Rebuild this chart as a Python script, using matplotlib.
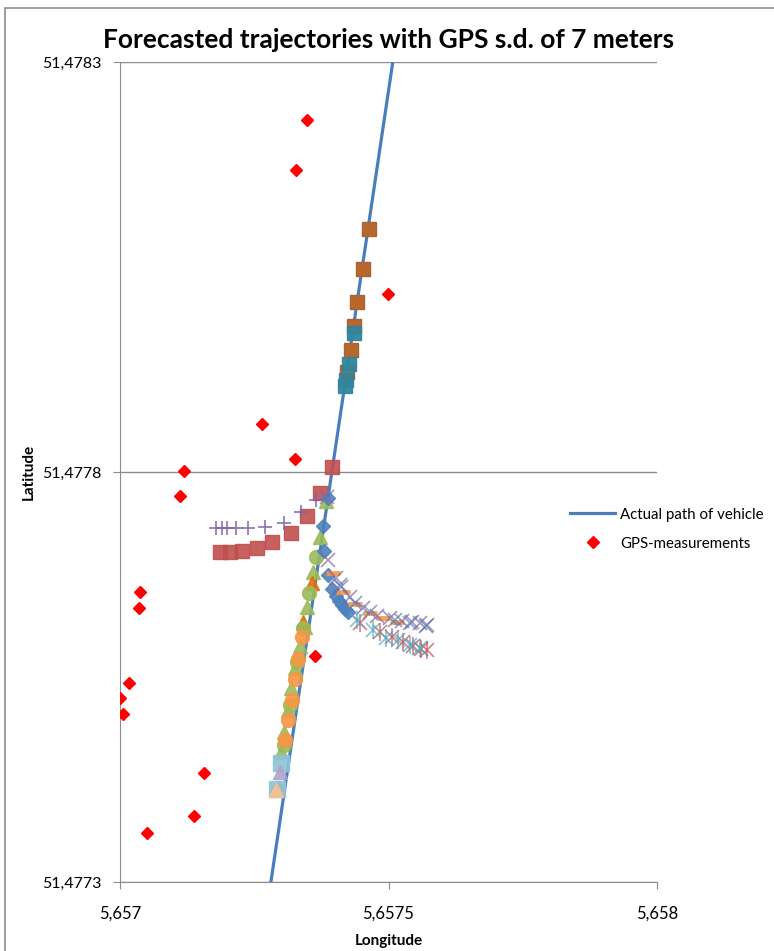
#!/usr/bin/env python3

import matplotlib
matplotlib.use("Agg")
import matplotlib.pyplot as plt
from matplotlib.patches import Rectangle

plt.rcParams["font.family"] = ["Lato", "DejaVu Sans"]

# actual path of the vehicle (straight road)
path_lon = [5.657281, 5.657508]
path_lat = [51.4773, 51.4783]

# noisy GPS fixes
gps_lon = [5.6573482, 5.6573277, 5.6574991, 5.6572644, 5.6573259, 5.6571192, 5.6571117, 5.6570372,
           5.6570354, 5.6573631, 5.6570168, 5.6570000, 5.6570056, 5.6571564, 5.6571378, 5.6570503]
gps_lat = [51.4782293, 51.4781683, 51.4780171, 51.4778585, 51.4778159, 51.4778012, 51.4777707, 51.4776537,
           51.4776341, 51.4775756, 51.4775427, 51.4775244, 51.4775049, 51.4774329, 51.4773805, 51.4773598]

# forecasted trajectories, one list pair per run
brown_lon = [5.6574637, 5.6574525, 5.6574413, 5.6574358, 5.6574302, 5.6574227]
brown_lat = [51.4780963, 51.4780476, 51.4780073, 51.4779781, 51.4779488, 51.4779220]

teal_lon = [5.6574358, 5.6574264, 5.6574209, 5.6574190]
teal_lat = [51.4779695, 51.4779317, 51.4779122, 51.4779049]

redsq_lon = [5.6573948, 5.6573724, 5.6573482, 5.6573184, 5.6572831, 5.6572551, 5.6572272, 5.6572048, 5.6571862]
redsq_lat = [51.4778061, 51.4777744, 51.4777463, 51.4777256, 51.4777146, 51.4777073, 51.4777037, 51.4777024, 51.4777024]

plus_lon = [5.6571788, 5.6571899, 5.6571993, 5.6572160, 5.6572384, 5.6572700, 5.6573054, 5.6573371, 5.6573650]
plus_lat = [51.4777317, 51.4777317, 51.4777317, 51.4777317, 51.4777317, 51.4777329, 51.4777378, 51.4777512, 51.4777659]

diam_lon = [5.6573873, 5.6573780, 5.6573799, 5.6573873, 5.6573948, 5.6574022, 5.6574078, 5.6574134, 5.6574190, 5.6574246]
diam_lat = [51.4777683, 51.4777342, 51.4777037, 51.4776744, 51.4776573, 51.4776488, 51.4776427, 51.4776378, 51.4776329, 51.4776293]

gtri_lon = [5.6573836, 5.6573724, 5.6573594, 5.6573482, 5.6573445, 5.6573352, 5.6573259, 5.6573184, 5.6573128, 5.6573054, 5.6572998]
gtri_lat = [51.4777646, 51.4777207, 51.4776781, 51.4776354, 51.4776110, 51.4775878, 51.4775610, 51.4775366, 51.4775098, 51.4774829, 51.4774585]

gcirc_lon = [5.6573650, 5.6573520, 5.6573408, 5.6573296, 5.6573166, 5.6573054]
gcirc_lat = [51.4776963, 51.4776524, 51.4776098, 51.4775683, 51.4775159, 51.4774671]

ocirc_lon = [5.6573389, 5.6573315, 5.6573259, 5.6573203, 5.6573128, 5.6573073, 5.6572942]
ocirc_lat = [51.4775988, 51.4775720, 51.4775476, 51.4775220, 51.4774976, 51.4774732, 51.4774122]

otri_lon = [5.6573575, 5.6573408, 5.6572942]
otri_lat = [51.4776646, 51.4776171, 51.4774147]

dash_lon = [5.6573966, 5.6574153, 5.6574376, 5.6574656, 5.6574898, 5.6575158]
dash_lat = [51.4776768, 51.4776537, 51.4776390, 51.4776281, 51.4776220, 51.4776171]

pxx_lon = [5.6573855, 5.6573873, 5.6574022, 5.6574115, 5.6574283, 5.6574525, 5.6574786, 5.6575028,
           5.6575251, 5.6575438, 5.6575587, 5.6575717]
pxx_lat = [51.4777695, 51.4776927, 51.4776707, 51.4776597, 51.4776475, 51.4776342, 51.4776244, 51.4776220,
           51.4776183, 51.4776171, 51.4776159, 51.4776134]

bxx_lon = [5.6574097, 5.6574376, 5.6574656, 5.6575121, 5.6575400, 5.6575698]
bxx_lat = [51.4776622, 51.4776403, 51.4776293, 51.4776195, 51.4776159, 51.4776122]

rast_lon = [5.6574469, 5.6574842, 5.6575065, 5.6575270, 5.6575456, 5.6575605, 5.6575717]
rast_lat = [51.4776159, 51.4776049, 51.4775988, 51.4775927, 51.4775878, 51.4775842, 51.4775829]

cast_lon = [5.6574413, 5.6574711, 5.6574953, 5.6575177, 5.6575400, 5.6575587]
cast_lat = [51.4776195, 51.4776073, 51.4775976, 51.4775951, 51.4775890, 51.4775854]

lbsq_lon = [5.6572998, 5.6572924]
lbsq_lat = [51.4774451, 51.4774134]

lptri_lon = [5.6572979]
lptri_lat = [51.4774342]
lotri_lon = [5.6572905]
lotri_lat = [51.4774122]

x_ticks = [5.657, 5.6575, 5.658]
x_tick_labels = ["5,657", "5,6575", "5,658"]
y_ticks = [51.4773, 51.4778, 51.4783]
y_tick_labels = ["51,4773", "51,4778", "51,4783"]


def main():
    fig = plt.figure(figsize=(7.74, 9.51), dpi=100)
    ax = fig.add_axes([120 / 774, 1 - 882 / 951, 537 / 774, 820 / 951])

    # outer chart frame, like the spreadsheet chart border
    fig.patches.append(Rectangle((5 / 774, -0.1), 1.2, 1 - 8 / 951 + 0.1, transform=fig.transFigure,
                                 fill=False, edgecolor="#8c8c8c", linewidth=1.2))

    ax.plot(path_lon, path_lat, color="#4A7EBB", linewidth=2.3, zorder=3, label="Actual path of vehicle")

    def mk(lon, lat, marker, color, ms, mew=1.0, alpha=0.9, z=4):
        ax.plot(lon, lat, linestyle="none", marker=marker, color=color, markersize=ms,
                markeredgewidth=mew, alpha=alpha, zorder=z)

    mk(redsq_lon, redsq_lat, "s", "#C0504D", 10.5)
    mk(plus_lon, plus_lat, "+", "#8064A2", 9.5, mew=1.2)
    mk(gtri_lon, gtri_lat, "^", "#9BBB59", 9.5)
    mk(otri_lon, otri_lat, "^", "#E46C0A", 9.5)
    mk(gcirc_lon, gcirc_lat, "o", "#9BBB59", 10)
    mk(ocirc_lon, ocirc_lat, "o", "#F79646", 10)
    mk(diam_lon, diam_lat, "D", "#4F81BD", 7.5)
    mk(dash_lon, dash_lat, "_", "#F79646", 10, mew=3.5)
    mk(pxx_lon, pxx_lat, "x", "#8064A2", 10, mew=1.2, alpha=0.7)
    mk(bxx_lon, bxx_lat, "x", "#4F81BD", 10, mew=1.2, alpha=0.7)
    for lon, lat, col in ((rast_lon, rast_lat, "#C0504D"), (cast_lon, cast_lat, "#4BACC6")):
        mk(lon, lat, "x", col, 10, mew=1.2, alpha=0.7)
        mk(lon, lat, "|", col, 13, mew=1.2, alpha=0.7)
    mk(brown_lon, brown_lat, "s", "#A5582E", 10.5)
    mk(brown_lon, brown_lat, "o", "#B8692B", 9.5)
    mk(teal_lon, teal_lat, "s", "#31859C", 10.5, alpha=0.95)
    mk(lbsq_lon, lbsq_lat, "s", "#8DC4D8", 11)
    mk(lptri_lon, lptri_lat, "^", "#B3A2C7", 9.5)
    mk(lotri_lon, lotri_lat, "^", "#FAC090", 9.5)

    ax.plot(gps_lon, gps_lat, linestyle="none", marker="D", color="#FF0000", markersize=6,
            zorder=5, label="GPS-measurements")

    ax.set_xlim(5.657, 5.658)
    ax.set_ylim(51.4773, 51.4783)
    ax.set_xticks(x_ticks)
    ax.set_xticklabels(x_tick_labels)
    ax.set_yticks(y_ticks)
    ax.set_yticklabels(y_tick_labels)
    ax.grid(axis="y", color="#8c8c8c", linewidth=1)
    ax.set_axisbelow(True)
    for side in ("top", "right"):
        ax.spines[side].set_visible(False)
    for side in ("left", "bottom"):
        ax.spines[side].set_color("#8c8c8c")
    ax.tick_params(direction="out", length=5, color="#8c8c8c", labelsize=11.5, pad=8)
    ax.tick_params(axis="x", labelsize=12, pad=12)

    ax.set_title("Forecasted trajectories with GPS s.d. of 7 meters", fontsize=19,
                 fontweight="bold", pad=10)
    ax.set_xlabel("Longitude", fontsize=11, fontweight="bold", labelpad=9)
    ax.set_ylabel("Latitude", fontsize=11, fontweight="bold", labelpad=5)

    fig.legend(loc="center left", bbox_to_anchor=(570 / 774, 1 - 529 / 951), frameon=False,
               fontsize=10.8, handlelength=3.0, handletextpad=0.33, labelspacing=1.0, borderpad=0,
               borderaxespad=0)

    fig.savefig("out.png", dpi=100)


main()
